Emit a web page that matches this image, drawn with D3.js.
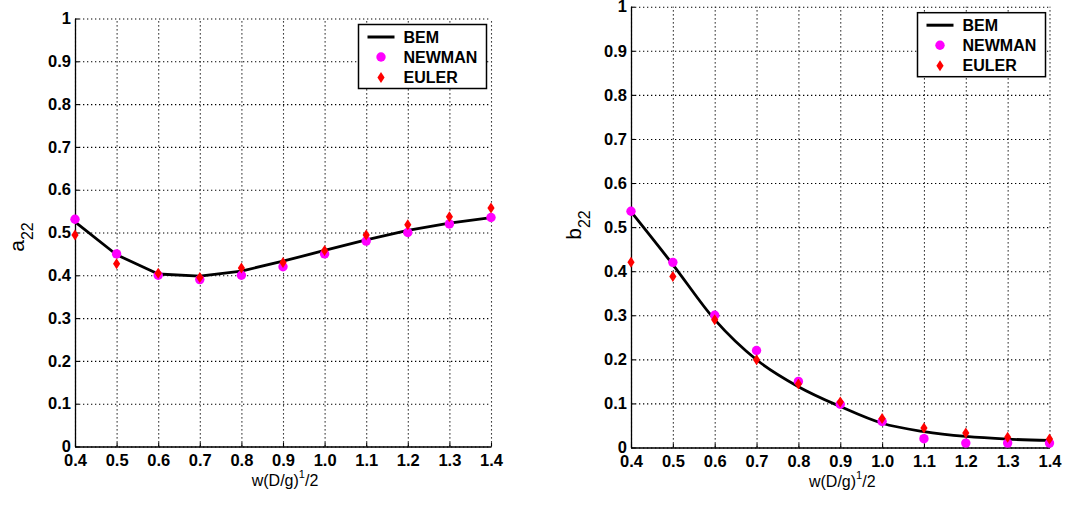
<!DOCTYPE html>
<html>
<head>
<meta charset="utf-8">
<script src="https://cdn.jsdelivr.net/npm/d3@7"></script>
<style>
  html, body { margin: 0; padding: 0; background: #fff; }
  svg { display: block; }
  text { font-family: "Liberation Sans", Arial, Helvetica, sans-serif; fill: #000; }
</style>
</head>
<body>
<svg id="chart" width="1070" height="508"></svg>
<script>
// Non-dimensional frequency w(D/g)^1/2
const omega = [0.4, 0.5, 0.6, 0.7, 0.8, 0.9, 1.0, 1.1, 1.2, 1.3, 1.4];

// Added mass coefficient a22
const a22Bem    = [0.525, 0.448, 0.403, 0.398, 0.410, 0.433, 0.458, 0.483, 0.505, 0.522, 0.535];
const a22Newman = [0.531, 0.450, 0.400, 0.390, 0.400, 0.420, 0.450, 0.480, 0.500, 0.520, 0.535];
const a22Euler  = [0.494, 0.427, 0.405, 0.395, 0.417, 0.430, 0.458, 0.494, 0.518, 0.537, 0.557];

// Damping coefficient b22
const b22Bem    = [0.535, 0.415, 0.290, 0.199, 0.138, 0.093, 0.055, 0.036, 0.025, 0.019, 0.016];
const b22Newman = [0.536, 0.420, 0.300, 0.220, 0.150, 0.098, 0.059, 0.020, 0.010, 0.010, 0.010];
const b22Euler  = [0.420, 0.388, 0.290, 0.199, 0.144, 0.103, 0.066, 0.044, 0.033, 0.023, 0.019];

const seriesNames = ["BEM", "NEWMAN", "EULER"];

const xTicks = [0.4, 0.5, 0.6, 0.7, 0.8, 0.9, 1.0, 1.1, 1.2, 1.3, 1.4];
const xTickLabels = ["0.4", "0.5", "0.6", "0.7", "0.8", "0.9", "1.0", "1.1", "1.2", "1.3", "1.4"];
const yTicks = [0, 0.1, 0.2, 0.3, 0.4, 0.5, 0.6, 0.7, 0.8, 0.9, 1];
const yTickLabels = ["0", "0.1", "0.2", "0.3", "0.4", "0.5", "0.6", "0.7", "0.8", "0.9", "1"];

const svg = d3.select("#chart");

const panels = [
  { bem: a22Bem, newman: a22Newman, euler: a22Euler, symbol: "a",
    box: { left: 75, right: 491, top: 18.5, bottom: 446.5 },
    titleX: 24, titleY: 237, curve: d3.curveLinear, legendGap: 4.5 },
  { bem: b22Bem, newman: b22Newman, euler: b22Euler, symbol: "b",
    box: { left: 631, right: 1049.5, top: 6.7, bottom: 447.5 },
    titleX: 581, titleY: 225, curve: d3.curveMonotoneX, legendGap: 4 }
];

panels.forEach(drawPanel);

function drawPanel(p) {
  const b = p.box;
  const x = d3.scaleLinear().domain([0.4, 1.4]).range([b.left, b.right]);
  const y = d3.scaleLinear().domain([0, 1]).range([b.bottom, b.top]);
  const w = b.right - b.left, h = b.bottom - b.top;
  const g = svg.append("g");

  // dotted grid
  g.append("g")
    .attr("transform", `translate(0,${b.bottom})`)
    .call(d3.axisBottom(x).tickValues(xTicks).tickSize(-h).tickFormat(""))
    .call(s => s.select(".domain").remove())
    .call(s => s.selectAll("line").attr("stroke", "#000").attr("stroke-width", 1.1).attr("stroke-dasharray", "1.3,2.7"));
  g.append("g")
    .attr("transform", `translate(${b.left},0)`)
    .call(d3.axisLeft(y).tickValues(yTicks).tickSize(-w).tickFormat(""))
    .call(s => s.select(".domain").remove())
    .call(s => s.selectAll("line").attr("stroke", "#000").attr("stroke-width", 1.1).attr("stroke-dasharray", "1.3,2.7"));

  // axes
  const xa = g.append("g")
    .attr("transform", `translate(0,${b.bottom})`)
    .call(d3.axisBottom(x).tickValues(xTicks).tickFormat((d, i) => xTickLabels[i])
      .tickSizeInner(-4).tickSizeOuter(0).tickPadding(8));
  const ya = g.append("g")
    .attr("transform", `translate(${b.left},0)`)
    .call(d3.axisLeft(y).tickValues(yTicks).tickFormat((d, i) => yTickLabels[i])
      .tickSizeInner(-4).tickSizeOuter(0).tickPadding(4));
  [xa, ya].forEach(a => {
    a.select(".domain").attr("stroke", "#000").attr("stroke-width", 1.3);
    a.selectAll(".tick line").attr("stroke", "#000").attr("stroke-width", 1.1);
    a.selectAll(".tick text").attr("font-size", "16.5px").attr("font-weight", "bold")
      .attr("fill", "#111");
  });

  // BEM line
  const line = d3.line().x((d, i) => x(omega[i])).y(d => y(d)).curve(p.curve);
  g.append("path").datum(p.bem)
    .attr("d", line).attr("fill", "none").attr("stroke", "#000")
    .attr("stroke-width", 2.8).attr("stroke-linejoin", "round");

  // NEWMAN circles
  g.append("g").selectAll("circle").data(p.newman).join("circle")
    .attr("cx", (d, i) => x(omega[i])).attr("cy", d => y(d))
    .attr("r", 4.7).attr("fill", "#ff00ff");

  // EULER diamonds
  const diamond = "M0,-5.5L3.6,0L0,5.5L-3.6,0Z";
  g.append("g").selectAll("path").data(p.euler).join("path")
    .attr("transform", (d, i) => `translate(${x(omega[i])},${y(d)})`)
    .attr("d", diamond).attr("fill", "#ff0000");

  // x-axis title
  const xt = g.append("text")
    .attr("x", (b.left + b.right) / 2 + 2).attr("y", b.bottom + 39)
    .attr("text-anchor", "middle").attr("font-size", "16px").attr("fill", "#111");
  xt.append("tspan").text("w(D/g)");
  xt.append("tspan").attr("dy", -8).attr("font-size", "11px").text("1");
  xt.append("tspan").attr("dy", 8).text("/2");

  // y-axis title
  const yt = g.append("text")
    .attr("transform", `translate(${p.titleX},${p.titleY}) rotate(-90)`)
    .attr("text-anchor", "middle").attr("font-size", "21px").attr("fill", "#111");
  yt.append("tspan").text(p.symbol);
  yt.append("tspan").attr("dy", 9).attr("font-size", "16px").text("22");

  // legend
  const lw = 128, lh = 64;
  const lx = b.right - p.legendGap - lw, ly = b.top + 6;
  const lg = g.append("g").attr("transform", `translate(${lx},${ly})`);
  lg.append("rect").attr("width", lw).attr("height", lh)
    .attr("fill", "#fff").attr("stroke", "#000").attr("stroke-width", 1.5);
  const rows = [12.5, 32.5, 53];
  lg.append("line").attr("x1", 9).attr("x2", 36).attr("y1", rows[0]).attr("y2", rows[0])
    .attr("stroke", "#000").attr("stroke-width", 3);
  lg.append("circle").attr("cx", 22.5).attr("cy", rows[1]).attr("r", 4.7).attr("fill", "#ff00ff");
  lg.append("path").attr("transform", `translate(22.5,${rows[2]})`).attr("d", diamond).attr("fill", "#ff0000");
  lg.selectAll("text.lab").data(seriesNames).join("text")
    .attr("class", "lab")
    .attr("x", 45).attr("y", (d, i) => rows[i]).attr("dy", "0.36em")
    .attr("font-size", "16px").attr("font-weight", "bold").attr("fill", "#111")
    .text(d => d);
}
</script>
</body>
</html>
